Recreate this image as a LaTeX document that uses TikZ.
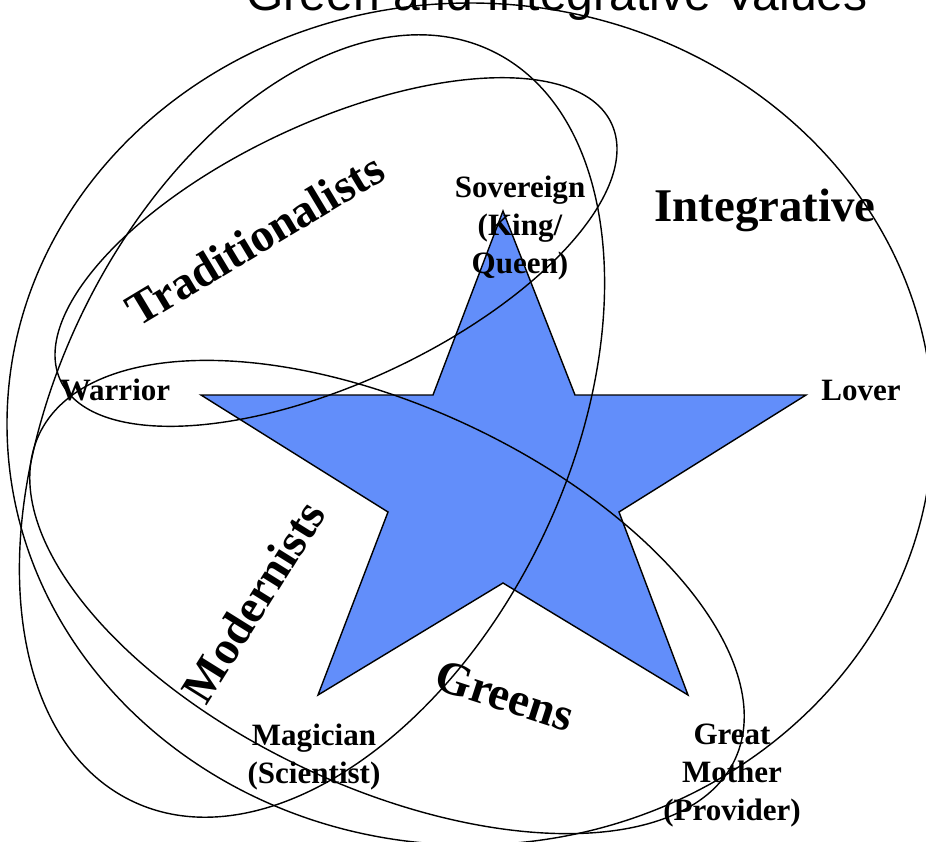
\documentclass[tikz,border=0pt]{standalone}
\usepackage{fontspec}
\setmainfont{Liberation Serif}
\newfontfamily\titrefont{Liberation Sans}
\usepackage{tikz}
\usetikzlibrary{positioning}
\definecolor{bleuetoile}{RGB}{98,142,250}
\tikzset{
  ovale/.style={draw=black, line width=1.2pt},
  role/.style={font=\bfseries\fontsize{26.5}{32.4}\selectfont, align=center, inner sep=0pt, anchor=base},
  groupe/.style={font=\bfseries\fontsize{40}{48}\selectfont, inner sep=0pt, anchor=base}
}

\begin{document}
\begin{tikzpicture}[x=0.3mm, y=-0.3mm]
	\useasboundingbox (0,0) rectangle (926,841);
	\clip (0,0) rectangle (926,841);
	% Titre (coupé en haut)
	\node[font=\titrefont\fontsize{41}{49}\selectfont, anchor=base, inner sep=0pt] (titre) at (557,10) {Green and Integrative Values};
	
	% Étoile
	\filldraw[fill=bleuetoile, draw=black, line width=1.2pt] (503,211) -- (575,395) -- (806,395) -- (619,512) -- (688,695)
		-- (503,583) -- (318,695) -- (388,512) -- (201,395) -- (433,395) -- cycle;
	
	% Ovales des groupes
	\draw[ovale] (470,424) ellipse [x radius=463, y radius=421];
	\draw[ovale, rotate around={25:(336,252)}] (336,252) ellipse [x radius=304, y radius=130];
	\draw[ovale, rotate around={64.4:(312,426)}] (312,426) ellipse [x radius=416, y radius=256];
	\draw[ovale, rotate around={-25:(387,597)}] (387,597) ellipse [x radius=384, y radius=190];
	
	% Rôles (ancre sur la dernière ligne)
	\node[role] (warrior) at (115,400) {Warrior};
	\node[role] (lover) at (861,400) {Lover};
	\node[role] (sovereign) at (520,273) {Sovereign\\(King/\\Queen)};
	\node[role] (magician) at (314,783) {Magician\\(Scientist)};
	\node[role] (mother) at (732,820) {Great\\Mother\\(Provider)};
	
	% Groupes
	\node[groupe] (integrative) at (765,221) {Integrative};
	\node[groupe, rotate=31] (traditionalists) at (263,253) {Traditionalists};
	\node[groupe, rotate=58] (modernists) at (267,610) {Modernists};
	\node[groupe, rotate=-18] (greens) at (500,710) {Greens};
\end{tikzpicture}
\end{document}
